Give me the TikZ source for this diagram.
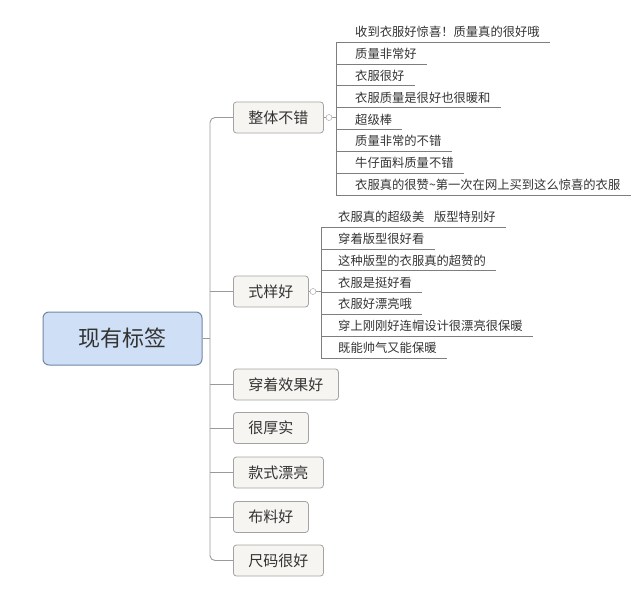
\documentclass[tikz,border=0pt]{standalone}
\usepackage{fontspec}
\setmainfont{Noto Sans CJK SC}
\usepackage{xcolor}
\usepackage{tikz}
\usetikzlibrary{positioning}

\definecolor{rootfill}{HTML}{CFE0F6}
\definecolor{rootline}{HTML}{7088A6}
\definecolor{boxfill}{HTML}{F7F5F1}
\definecolor{boxline}{HTML}{A3A3A3}
\definecolor{connc}{HTML}{9A9A9A}
\definecolor{ulc}{HTML}{7E7E7E}
\definecolor{txt}{HTML}{333333}

\tikzset{
  rootbox/.style={rectangle, draw=rootline, fill=rootfill, rounded corners=6pt, line width=1pt,
    minimum width=159pt, minimum height=53pt, font=\fontsize{22}{26}\selectfont, text=txt},
  topic/.style={rectangle, draw=boxline, fill=boxfill, rounded corners=3pt, line width=.8pt,
    anchor=west, minimum height=31pt, inner xsep=15pt, font=\fontsize{15}{18}\selectfont, text=txt},
  leaf/.style={anchor=west, inner xsep=0pt, inner ysep=0pt, minimum height=20pt,
    font=\fontsize{12.3}{14}\selectfont, text=txt},
  knob/.style={circle, draw=connc, fill=white, inner sep=0pt, minimum size=6pt},
  conn/.style={draw=connc, line width=.9pt},
  uline/.style={draw=ulc, line width=.8pt}
}

\begin{document}
\begin{tikzpicture}[x=1pt, y=-1pt]
  \useasboundingbox (0,0) rectangle (636,599);

  % root and first level
  \node[rootbox] (root) at (122.5,338.5) {现有标签};
  \node[topic] (whole) at (233,117.5) {整体不错};
  \node[topic] (style) at (233,291.5) {式样好};
  \node[topic] (wear) at (233,384.5) {穿着效果好};
  \node[topic] (thick) at (233,428) {很厚实};
  \node[topic] (pretty) at (233,472.5) {款式漂亮};
  \node[topic] (cloth) at (233,517) {布料好};
  \node[topic] (size) at (233,560.5) {尺码很好};

  \coordinate (trunk) at (210,0);
  \draw[conn, rounded corners=5pt] (whole.west) -| (size.west -| trunk) -- (size.west);
  \draw[conn] (root.east) -- (root.east -| trunk);
  \draw[conn] (style.west) -- (style.west -| trunk);
  \draw[conn] (wear.west) -- (wear.west -| trunk);
  \draw[conn] (thick.west) -- (thick.west -| trunk);
  \draw[conn] (pretty.west) -- (pretty.west -| trunk);
  \draw[conn] (cloth.west) -- (cloth.west -| trunk);

  % 整体不错
  \coordinate (va) at (336,0);
  \node[leaf] (a1) at (355,32) {收到衣服好惊喜！质量真的很好哦};
  \node[leaf] (a2) at (355,53.85) {质量非常好};
  \node[leaf] (a3) at (355,75.7) {衣服很好};
  \node[leaf] (a4) at (355,97.55) {衣服质量是很好也很暖和};
  \node[leaf] (a5) at (355,119.4) {超级棒};
  \node[leaf] (a6) at (355,141.25) {质量非常的不错};
  \node[leaf] (a7) at (355,163.1) {牛仔面料质量不错};
  \node[leaf] (a8) at (355,184.95) {衣服真的很赞\textasciitilde 第一次在网上买到这么惊喜的衣服};
  \node[knob] (ka) at (329,117.5) {};
  \draw[conn] (whole.east) -- (ka.west);
  \draw[conn] (ka.east) -- (ka.east -| va);
  \draw[uline] (a1.south -| va) -- (a8.south -| va);
  \draw[uline] (a1.south -| va) -- ([xshift=10pt]a1.south east)
    (a2.south -| va) -- ([xshift=10pt]a2.south east)
    (a3.south -| va) -- ([xshift=10pt]a3.south east)
    (a4.south -| va) -- ([xshift=10pt]a4.south east)
    (a5.south -| va) -- ([xshift=10pt]a5.south east)
    (a6.south -| va) -- ([xshift=10pt]a6.south east)
    (a7.south -| va) -- ([xshift=10pt]a7.south east)
    (a8.south -| va) -- ([xshift=10pt]a8.south east);

  % 式样好
  \coordinate (vb) at (321,0);
  \node[leaf] (b1) at (338,217) {衣服真的超级美\hspace{.8em}版型特别好};
  \node[leaf] (b2) at (338,238.8) {穿着版型很好看};
  \node[leaf] (b3) at (338,260.6) {这种版型的衣服真的超赞的};
  \node[leaf] (b4) at (338,282.4) {衣服是挺好看};
  \node[leaf] (b5) at (338,304.2) {衣服好漂亮哦};
  \node[leaf] (b6) at (338,326) {穿上刚刚好连帽设计很漂亮很保暖};
  \node[leaf] (b7) at (338,347.8) {既能帅气又能保暖};
  \node[knob] (kb) at (313,291.5) {};
  \draw[conn] (style.east) -- (kb.west);
  \draw[conn] (kb.east) -- (kb.east -| vb);
  \draw[uline] (b1.south -| vb) -- (b7.south -| vb);
  \draw[uline] (b1.south -| vb) -- ([xshift=10pt]b1.south east)
    (b2.south -| vb) -- ([xshift=10pt]b2.south east)
    (b3.south -| vb) -- ([xshift=10pt]b3.south east)
    (b4.south -| vb) -- ([xshift=10pt]b4.south east)
    (b5.south -| vb) -- ([xshift=10pt]b5.south east)
    (b6.south -| vb) -- ([xshift=10pt]b6.south east)
    (b7.south -| vb) -- ([xshift=10pt]b7.south east);
\end{tikzpicture}
\end{document}
